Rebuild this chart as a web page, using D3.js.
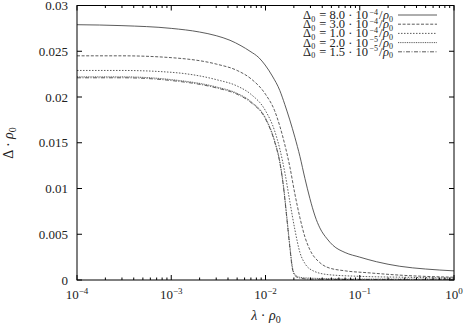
<!DOCTYPE html>
<html><head><meta charset="utf-8">
<script src="https://cdn.jsdelivr.net/npm/d3@7"></script>
<style>body{margin:0;background:#fff;}svg{display:block;font-family:"Liberation Serif","Times New Roman",Times,serif;}</style>
</head><body><svg id="c" width="464" height="325"></svg>
<script>
// Data
const lambdas1 = [1e-4, 3e-4, 1e-3, 2e-3, 3e-3, 4.2e-3, 5.5e-3, 6.85e-3, 8.5e-3, 0.0099, 0.0118, 0.0142, 0.016, 0.0181, 0.0205, 0.0232, 0.0262, 0.0296, 0.0335, 0.0377, 0.045, 0.0518, 0.07, 0.1, 0.15, 0.266, 0.5, 1];
const series1 = [0.0279, 0.0278, 0.0275, 0.0271, 0.0267, 0.0262, 0.0256, 0.0250, 0.0243, 0.0235, 0.0223, 0.0207, 0.0192, 0.0175, 0.0156, 0.0135, 0.0111, 0.0089, 0.0070, 0.0057, 0.0045, 0.0038, 0.0030, 0.0025, 0.0020, 0.0015, 0.0012, 0.0010];
const lambdas2 = [1e-4, 3e-4, 1e-3, 3e-3, 5e-3, 7e-3, 1e-2, 0.0125, 0.0142, 0.0162, 0.0181, 0.0205, 0.0232, 0.0262, 0.0296, 0.0377, 0.045, 0.07, 0.119, 0.3, 1];
const series2 = [0.0245, 0.0245, 0.0243, 0.0236, 0.0229, 0.0220, 0.0203, 0.0185, 0.0168, 0.0146, 0.0124, 0.0094, 0.0068, 0.0047, 0.0033, 0.0019, 0.0014, 0.0010, 0.0008, 0.0005, 0.0003];
const lambdas3 = [1e-4, 3e-4, 1e-3, 3e-3, 5e-3, 7e-3, 1e-2, 0.0125, 0.0142, 0.0162, 0.0181, 0.0205, 0.0232, 0.0262, 0.0296, 0.045, 0.1, 0.3, 1];
const series3 = [0.0229, 0.0229, 0.0227, 0.0219, 0.0212, 0.0203, 0.0185, 0.0163, 0.0143, 0.0115, 0.0086, 0.0055, 0.0030, 0.0018, 0.0012, 0.0006, 0.0004, 0.0003, 0.0002];
const lambdas4 = [1e-4, 3e-4, 1e-3, 3e-3, 5e-3, 7e-3, 1e-2, 0.0125, 0.0142, 0.0155, 0.0168, 0.0181, 0.0193, 0.0205, 0.023, 0.03, 0.1, 1];
const series4 = [0.0222, 0.0222, 0.0219, 0.0211, 0.0204, 0.0195, 0.0177, 0.0152, 0.0129, 0.0103, 0.0070, 0.0038, 0.0014, 0.0006, 0.0003, 0.0002, 0.0001, 0.0001];
const series5 = [0.0221, 0.0221, 0.0218, 0.0210, 0.0203, 0.0194, 0.0176, 0.0151, 0.0128, 0.0102, 0.0068, 0.0036, 0.0012, 0.0005, 0.0002, 0.0001, 0.00005, 0.00003];
const legendMantissa = ["8.0", "3.0", "1.0", "2.0", "1.5"];
const legendExp = ["−4", "−4", "−4", "−5", "−5"];
const yTicks = [0, 0.005, 0.01, 0.015, 0.02, 0.025, 0.03];
const yTickLabels = ["0", "0.005", "0.01", "0.015", "0.02", "0.025", "0.03"];
const xTickExps = ["−4", "−3", "−2", "−1", "0"];

const styles = [
  {dash: null},
  {dash: "3,1.6"},
  {dash: "1.5,1.5"},
  {dash: "1,0.8"},
  {dash: "4,1.5,1,1.5"}
];
const data = [
  {l: lambdas1, v: series1},
  {l: lambdas2, v: series2},
  {l: lambdas3, v: series3},
  {l: lambdas4, v: series4},
  {l: lambdas4, v: series5}
];

const svg = d3.select("#c");
const L = 77, R = 454, T = 5.5, B = 280;
const x = d3.scaleLog().domain([1e-4, 1]).range([L, R]);
const y = d3.scaleLinear().domain([0, 0.03]).range([B, T]);
const ink = "#000";
const curveCol = "#4a4a4a";

const line = d3.line().x(d => x(d[0])).y(d => y(d[1])).curve(d3.curveMonotoneX);
svg.append("clipPath").attr("id","cp").append("rect").attr("x",L).attr("y",T).attr("width",R-L).attr("height",B-T);
data.forEach((s, i) => {
  const pts = s.l.map((l, j) => [l, s.v[j]]);
  svg.append("path").attr("d", line(pts)).attr("fill","none")
    .attr("stroke", curveCol).attr("stroke-width", 0.9)
    .attr("stroke-dasharray", styles[i].dash).attr("clip-path","url(#cp)");
});

svg.append("rect").attr("x",L).attr("y",T).attr("width",R-L).attr("height",B-T)
  .attr("fill","none").attr("stroke",ink).attr("stroke-width",1);

const majors = [1e-4,1e-3,1e-2,1e-1,1];
const minors = [];
for (let e=-4;e<0;e++) for (let m=2;m<=9;m++) minors.push(m*Math.pow(10,e));
const tk = svg.append("g").attr("stroke",ink).attr("stroke-width",1);
majors.forEach(v => {
  tk.append("line").attr("x1",x(v)).attr("x2",x(v)).attr("y1",B).attr("y2",B-5);
  tk.append("line").attr("x1",x(v)).attr("x2",x(v)).attr("y1",T).attr("y2",T+5);
});
minors.forEach(v => {
  tk.append("line").attr("x1",x(v)).attr("x2",x(v)).attr("y1",B).attr("y2",B-2.5);
  tk.append("line").attr("x1",x(v)).attr("x2",x(v)).attr("y1",T).attr("y2",T+2.5);
});
yTicks.forEach(v => {
  tk.append("line").attr("x1",L).attr("x2",L+5).attr("y1",y(v)).attr("y2",y(v));
  tk.append("line").attr("x1",R).attr("x2",R-5).attr("y1",y(v)).attr("y2",y(v));
});

yTicks.forEach((v,i) => {
  svg.append("text").attr("x",L-9).attr("y",y(v)+4.5).attr("text-anchor","end")
    .attr("font-size",13).attr("fill","#222").text(yTickLabels[i]);
});
majors.forEach((v,i) => {
  const t = svg.append("text").attr("x",x(v)).attr("y",299).attr("text-anchor","middle")
    .attr("font-size",13).attr("fill","#222");
  t.append("tspan").text("10");
  t.append("tspan").attr("dy",-5).attr("font-size",9).text(xTickExps[i]);
});

const xt = svg.append("text").attr("x",266).attr("y",320).attr("text-anchor","middle").attr("font-size",14).attr("fill","#222");
xt.append("tspan").attr("font-style","italic").text("λ");
xt.append("tspan").text(" · ");
xt.append("tspan").attr("font-style","italic").text("ρ");
xt.append("tspan").attr("dy",3).attr("font-size",10).text("0");

const yt = svg.append("text").attr("transform","translate(13,143) rotate(-90)").attr("text-anchor","middle").attr("font-size",14).attr("fill","#222");
yt.append("tspan").text("Δ · ");
yt.append("tspan").attr("font-style","italic").text("ρ");
yt.append("tspan").attr("dy",3).attr("font-size",10).text("0");

legendMantissa.forEach((m,i) => {
  const cy = 15 + i*9.2;
  const t = svg.append("text").attr("x",393).attr("y",cy+4).attr("text-anchor","end").attr("font-size",12.5).attr("fill","#222");
  t.append("tspan").text("Δ");
  t.append("tspan").attr("dy",2.5).attr("font-size",8).text("0");
  t.append("tspan").attr("dy",-2.5).attr("dx",1).text(" = " + m + " · 10");
  t.append("tspan").attr("dy",-4.5).attr("dx",1.5).attr("font-size",8).text(legendExp[i]);
  t.append("tspan").attr("dy",4.5).attr("dx",1).text("/");
  t.append("tspan").attr("dx",0.5).attr("font-style","italic").text("ρ");
  t.append("tspan").attr("dy",2.5).attr("font-size",8).text("0");
  svg.append("line").attr("x1",398).attr("x2",437).attr("y1",cy).attr("y2",cy)
    .attr("stroke",curveCol).attr("stroke-width",0.9).attr("stroke-dasharray",styles[i].dash);
});
</script></body></html>
